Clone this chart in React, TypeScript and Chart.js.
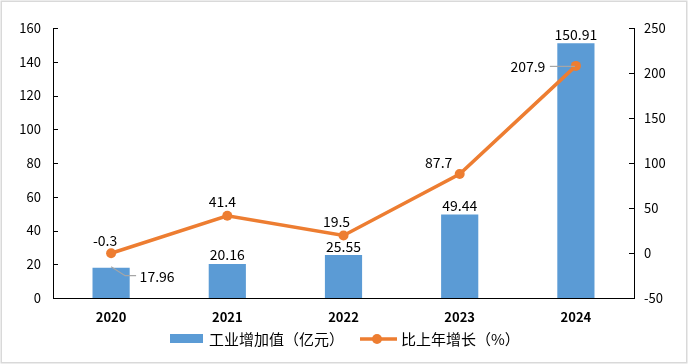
import React, { useEffect, useRef } from "react";
import { Chart, registerables } from "chart.js";

Chart.register(...registerables);

const categories = ["2020", "2021", "2022", "2023", "2024"];
const valueAdded = [17.96, 20.16, 25.55, 49.44, 150.91];
const growth = [-0.3, 41.4, 19.5, 87.7, 207.9];
const barLabelText = ["17.96", "20.16", "25.55", "49.44", "150.91"];
const lineLabelText = ["-0.3", "41.4", "19.5", "87.7", "207.9"];
const seriesNames = ["工业增加值（亿元）", "比上年增长（%）"];

// label placement (offsets from the mark, in px)
const barLabelOffsets = [[46, 9], [0, -9], [0, -8], [0, -9], [0, -9]];
const lineLabelOffsets = [[-6, -13], [-5, -14], [-7, -14], [-21, -11], [-48, 1]];

const BAR_COLOR = "#5B9BD5";
const LINE_COLOR = "#ED7D31";
const FONT = "'Noto Sans CJK SC', 'Noto Sans', sans-serif";

const framePlugin = {
  id: "frame",
  afterDraw(chart: any) {
    const { ctx, width, height } = chart;
    ctx.save();
    ctx.strokeStyle = "#D9D9D9";
    ctx.lineWidth = 1.5;
    ctx.strokeRect(1.25, 1.25, width - 2.5, height - 2.5);
    ctx.restore();
  },
};

const innerTicksPlugin = {
  id: "innerTicks",
  afterDraw(chart: any) {
    const { ctx, chartArea } = chart;
    ctx.save();
    ctx.strokeStyle = "#000";
    ctx.lineWidth = 1;
    const y = chart.scales.y;
    y.ticks.forEach((t: any) => {
      const p = Math.round(y.getPixelForValue(t.value)) + 0.5;
      ctx.beginPath();
      ctx.moveTo(chartArea.left, p);
      ctx.lineTo(chartArea.left + 5, p);
      ctx.stroke();
    });
    const y1 = chart.scales.y1;
    y1.ticks.forEach((t: any) => {
      const p = Math.round(y1.getPixelForValue(t.value)) + 0.5;
      ctx.beginPath();
      ctx.moveTo(chartArea.right - 5, p);
      ctx.lineTo(chartArea.right, p);
      ctx.stroke();
    });
    ctx.restore();
  },
};

const labelsPlugin = {
  id: "valueLabels",
  afterDatasetsDraw(chart: any) {
    const { ctx } = chart;
    ctx.save();
    ctx.font = `14px ${FONT}`;
    ctx.fillStyle = "#000";
    ctx.textAlign = "center";
    ctx.textBaseline = "middle";
    const barMeta = chart.getDatasetMeta(0);
    barMeta.data.forEach((el: any, i: number) => {
      const [dx, dy] = barLabelOffsets[i];
      const tx = el.x + dx;
      const ty = el.y + dy;
      if (i === 0) {
        ctx.strokeStyle = "#A6A6A6";
        ctx.lineWidth = 1.2;
        ctx.beginPath();
        ctx.moveTo(el.x, el.y - 1);
        ctx.lineTo(el.x + 14, el.y + 8);
        ctx.lineTo(el.x + 25, el.y + 8);
        ctx.stroke();
      }
      ctx.fillText(barLabelText[i], tx, ty);
    });
    const lineMeta = chart.getDatasetMeta(1);
    lineMeta.data.forEach((el: any, i: number) => {
      const [dx, dy] = lineLabelOffsets[i];
      if (i === 4) {
        ctx.strokeStyle = "#A6A6A6";
        ctx.lineWidth = 1.2;
        ctx.beginPath();
        ctx.moveTo(el.x - 26, el.y + 0.5);
        ctx.lineTo(el.x - 1, el.y + 0.5);
        ctx.stroke();
      }
      ctx.fillText(lineLabelText[i], el.x + dx, el.y + dy);
    });
    ctx.restore();
  },
};

const legendPlugin = {
  id: "customLegend",
  afterDraw(chart: any) {
    const { ctx, width } = chart;
    const ds = chart.data.datasets;
    ctx.save();
    ctx.font = `15px ${FONT}`;
    ctx.textBaseline = "middle";
    ctx.textAlign = "left";
    const cy = 339;
    const w1 = ctx.measureText(ds[0].label).width;
    const w2 = ctx.measureText(ds[1].label).width;
    const total = 33 + 6 + w1 + 16 + 37 + 4 + w2;
    let x = Math.round(width / 2 - total / 2) + 1;
    ctx.fillStyle = ds[0].backgroundColor;
    ctx.fillRect(x, cy - 5, 33, 9);
    x += 39;
    ctx.fillStyle = "#000";
    ctx.fillText(ds[0].label, x, cy);
    x += w1 + 16;
    ctx.strokeStyle = ds[1].borderColor;
    ctx.lineWidth = 3.5;
    ctx.beginPath();
    ctx.moveTo(x, cy);
    ctx.lineTo(x + 37, cy);
    ctx.stroke();
    ctx.fillStyle = ds[1].borderColor;
    ctx.beginPath();
    ctx.arc(x + 17, cy, 5, 0, Math.PI * 2);
    ctx.fill();
    x += 41;
    ctx.fillStyle = "#000";
    ctx.fillText(ds[1].label, x, cy);
    ctx.restore();
  },
};

export default function App() {
  const ref = useRef<HTMLCanvasElement | null>(null);

  useEffect(() => {
    document.body.style.margin = "0";
    const canvas = ref.current;
    if (!canvas) return;
    Chart.defaults.font.family = FONT;
    Chart.defaults.color = "#000";
    const chart = new Chart(canvas, {
      type: "bar",
      data: {
        labels: categories,
        datasets: [
          {
            type: "bar",
            label: seriesNames[0],
            data: valueAdded,
            backgroundColor: BAR_COLOR,
            yAxisID: "y",
            barPercentage: 0.32,
            categoryPercentage: 1,
            order: 2,
          },
          {
            type: "line",
            label: seriesNames[1],
            data: growth,
            borderColor: LINE_COLOR,
            backgroundColor: LINE_COLOR,
            borderWidth: 3.5,
            pointRadius: 5,
            pointBorderWidth: 0,
            pointBackgroundColor: LINE_COLOR,
            yAxisID: "y1",
            tension: 0,
            order: 1,
          } as any,
        ],
      },
      options: {
        responsive: false,
        animation: false,
        events: [],
        layout: { padding: { top: 28, left: 0, right: 0, bottom: 0 } },
        plugins: {
          legend: { display: false },
          tooltip: { enabled: false },
        },
        scales: {
          x: {
            offset: true,
            grid: { display: false, drawTicks: false },
            border: { display: true, color: "#000", width: 1 },
            ticks: { padding: 11, font: { size: 13, weight: "bold" }, color: "#000" },
            afterFit(scale: any) {
              scale.height = 66;
            },
          },
          y: {
            position: "left",
            min: 0,
            max: 160,
            grid: { display: false, drawTicks: false },
            border: { display: true, color: "#000", width: 1 },
            ticks: { stepSize: 20, padding: 12, font: { size: 13 }, color: "#000" },
            afterFit(scale: any) {
              scale.width = 53;
            },
          },
          y1: {
            position: "right",
            min: -50,
            max: 250,
            grid: { display: false, drawTicks: false },
            border: { display: true, color: "#000", width: 1 },
            ticks: { stepSize: 50, padding: 10, font: { size: 13 }, color: "#000" },
            afterFit(scale: any) {
              scale.width = 54;
            },
          },
        },
      },
      plugins: [labelsPlugin, innerTicksPlugin, legendPlugin, framePlugin],
    });
    return () => chart.destroy();
  }, []);

  return <canvas ref={ref} width={688} height={364} style={{ display: "block" }} />;
}
